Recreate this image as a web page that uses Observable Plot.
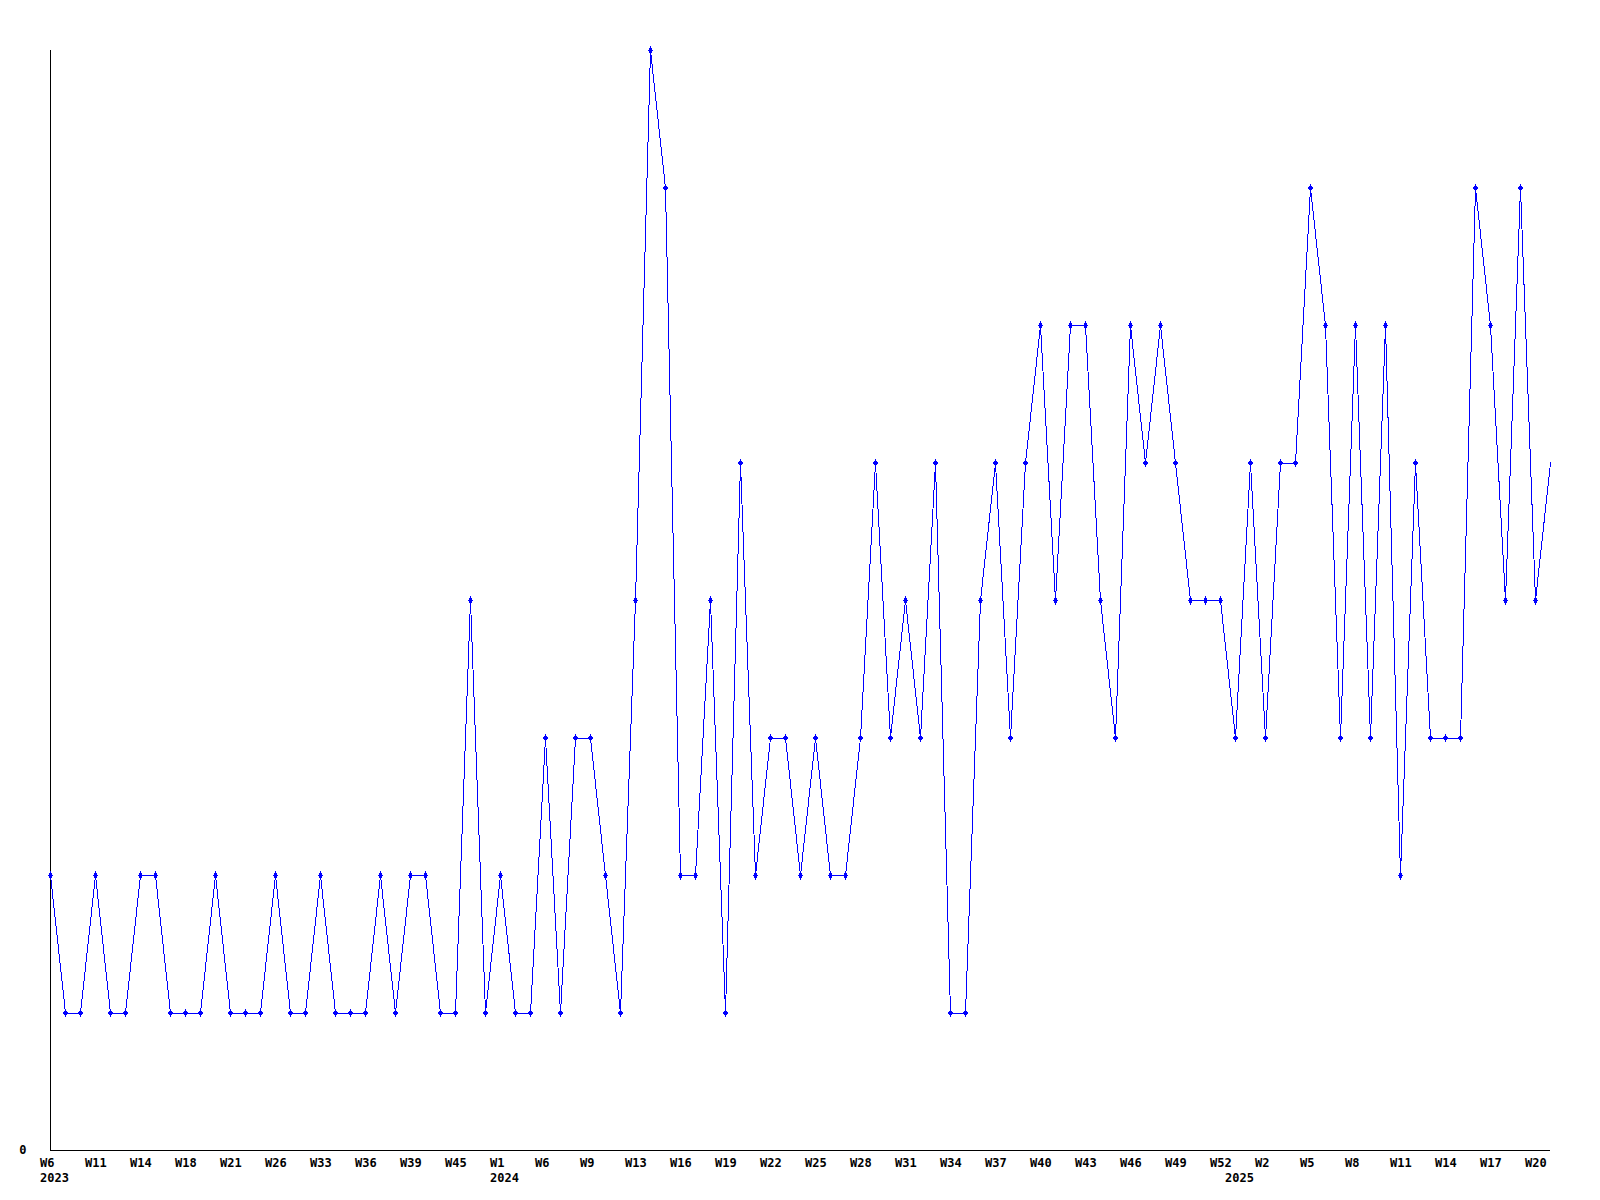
<!DOCTYPE html>
<html><head><meta charset="utf-8">
<script src="https://cdn.jsdelivr.net/npm/d3@7"></script>
<script src="https://cdn.jsdelivr.net/npm/@observablehq/plot@0.6"></script>
<style>
body{margin:0;background:#fff}
svg path, svg line{shape-rendering:crispEdges}
</style>
</head><body><div id="chart"></div>
<script>
const years = [
  2023,2023,2023,2023,2023,2023,2023,2023,2023,2023,
  2023,2023,2023,2023,2023,2023,2023,2023,2023,2023,
  2023,2023,2023,2023,2023,2023,2023,2023,2023,2023,
  2024,2024,2024,2024,2024,2024,2024,2024,2024,2024,
  2024,2024,2024,2024,2024,2024,2024,2024,2024,2024,
  2024,2024,2024,2024,2024,2024,2024,2024,2024,2024,
  2024,2024,2024,2024,2024,2024,2024,2024,2024,2024,
  2024,2024,2024,2024,2024,2024,2024,2024,2024,2025,
  2025,2025,2025,2025,2025,2025,2025,2025,2025,2025,
  2025,2025,2025,2025,2025,2025,2025,2025,2025,2025,
  2025
];
const weeks = [
  "W6","W8","W10","W11","W12","W13","W14","W16","W17","W18",
  "W19","W20","W21","W23","W25","W26","W29","W31","W33","W34",
  "W35","W36","W37","W38","W39","W41","W43","W45","W48","W51",
  "W1","W3","W4","W6","W7","W8","W9","W10","W12","W13",
  "W14","W15","W16","W17","W18","W19","W20","W21","W22","W23",
  "W24","W25","W26","W27","W28","W29","W30","W31","W32","W33",
  "W34","W35","W36","W37","W38","W39","W40","W41","W42","W43",
  "W44","W45","W46","W47","W48","W49","W50","W51","W52","W0",
  "W1","W2","W3","W4","W5","W6","W7","W8","W9","W10",
  "W11","W12","W13","W14","W15","W16","W17","W18","W19","W20",
  "W21"
];
const values = [
  2,1,1,2,1,1,2,2,1,1,
  1,2,1,1,1,2,1,1,2,1,
  1,1,2,1,2,2,1,1,4,1,
  2,1,1,3,1,3,3,2,1,4,
  8,7,2,2,4,1,5,2,3,3,
  2,3,2,2,3,5,3,4,3,5,
  1,1,4,5,3,5,6,4,6,6,
  4,3,6,5,6,5,4,4,4,3,
  5,3,5,5,7,6,3,6,3,6,
  2,5,3,3,3,7,6,4,7,4,
  5
];

const data = values.map((v, i) => ({i, v, week: weeks[i], year: years[i]}));
const weekTicks = data.filter(d => d.i % 3 === 0 && d.i < data.length - 1).map(d => d.i);
const yearTicks = data.filter((d, k) => k === 0 || years[k - 1] !== d.year).map(d => d.i);

const chart = Plot.plot({
  width: 1600,
  height: 1200,
  marginLeft: 50,
  marginRight: 50,
  marginTop: 50,
  marginBottom: 50,
  x: {type: "linear", domain: [0, values.length - 1]},
  y: {domain: [0, 8]},
  style: {fontFamily: "'DejaVu Sans Mono', monospace", fontSize: "12px", fontWeight: "bold", color: "#000", background: "#fff"},
  marks: [
    Plot.axisX({ticks: weekTicks, tickFormat: i => weeks[i], tickSize: 0, tickPadding: 7.5, textAnchor: "start", dx: -10.5, label: null}),
    Plot.axisX({ticks: yearTicks, tickFormat: i => String(years[i]), tickSize: 0, tickPadding: 22.5, textAnchor: "start", dx: -10.5, label: null}),
    Plot.axisY({ticks: [0], tickSize: 0, tickPadding: 24, label: null}),
    Plot.ruleX([0], {stroke: "#000", strokeWidth: 1}),
    Plot.ruleY([0], {stroke: "#000", strokeWidth: 1}),
    Plot.line(data, {x: "i", y: "v", stroke: "#0000ff", strokeWidth: 1}),
    Plot.dot(data.slice(0, data.length - 1), {x: "i", y: "v", symbol: "diamond", r: 2.5, fill: "#0000ff", stroke: "none"})
  ]
});
document.getElementById("chart").appendChild(chart);
</script>
</body></html>
